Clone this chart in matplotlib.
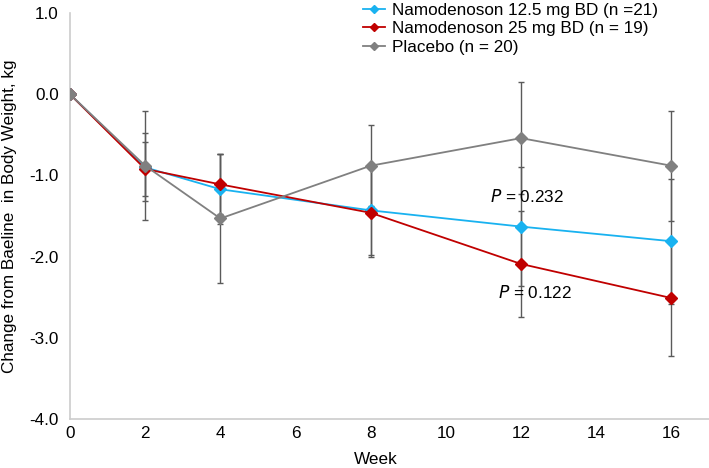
import matplotlib.pyplot as plt

plt.rcParams['font.family'] = ['Liberation Sans', 'DejaVu Sans']

weeks = [0, 2, 4, 8, 12, 16]

low_dose = [0.0, -0.90, -1.17, -1.43, -1.63, -1.81]
low_err = [0.0, 0.42, 0.43, 0.55, 0.73, 0.77]

high_dose = [0.0, -0.92, -1.11, -1.46, -2.09, -2.51]
high_err = [0.0, 0.33, 0.37, 0.55, 0.65, 0.71]

placebo = [0.0, -0.88, -1.53, -0.88, -0.54, -0.88]
placebo_err = [0.0, 0.67, 0.80, 0.50, 0.69, 0.68]

labels = ['Namodenoson 12.5 mg BD (n =21)',
          'Namodenoson 25 mg BD (n = 19)',
          'Placebo (n = 20)']
colors = ['#19b2f0', '#c00000', '#808080']

fs = 12.3

fig = plt.figure(figsize=(7.09, 4.68), dpi=100)
ax = fig.add_axes([0.0987, 0.1047, 0.9013, 0.8673])

series = [(low_dose, low_err), (high_dose, high_err), (placebo, placebo_err)]
handles = []
for k, (vals, errs) in enumerate(series):
    ax.errorbar(weeks[1:], vals[1:], yerr=errs[1:], fmt='none',
                ecolor='#5a5a5a', elinewidth=1.0, capsize=2.5, capthick=1.0,
                zorder=1)
    h, = ax.plot(weeks, vals, color=colors[k], marker='D', markersize=6,
                 linewidth=1.3, zorder=2 + k)
    handles.append(h)

ax.text(11.17, -1.255, r'$\mathit{P}$ = 0.232', fontsize=fs, va='center')
ax.text(11.38, -2.44, r'$\mathit{P}$ = 0.122', fontsize=fs, va='center')

ax.set_xlim(0, 17)
ax.set_ylim(-4, 1)
ax.set_xticks([0, 2, 4, 6, 8, 10, 12, 14, 16])
ax.set_yticks([1, 0, -1, -2, -3, -4])
ax.set_yticklabels(['1.0', '0.0', '-1.0', '-2.0', '-3.0', '-4.0'])
ax.tick_params(axis='x', length=0, labelsize=fs, pad=5)
ax.tick_params(axis='y', length=0, labelsize=fs, pad=8)
for s in ['top', 'right']:
    ax.spines[s].set_visible(False)
for s in ['left', 'bottom']:
    ax.spines[s].set_color('#cccccc')
    ax.spines[s].set_linewidth(1.2)

ax.set_xlabel('Week', fontsize=fs)
ax.xaxis.set_label_coords(0.478, -0.082)
ax.set_ylabel('Change from Baeline  in Body Weight, kg', fontsize=fs)
ax.yaxis.set_label_coords(-0.083, 0.5)

leg = fig.legend(handles, labels, loc='upper left', bbox_to_anchor=(0.512, 0.994),
                 frameon=False, fontsize=fs, handlelength=1.3, borderpad=0,
                 borderaxespad=0, handletextpad=0.4, labelspacing=0.2,
                 markerscale=0.65)

fig.savefig('out.png', dpi=100)
